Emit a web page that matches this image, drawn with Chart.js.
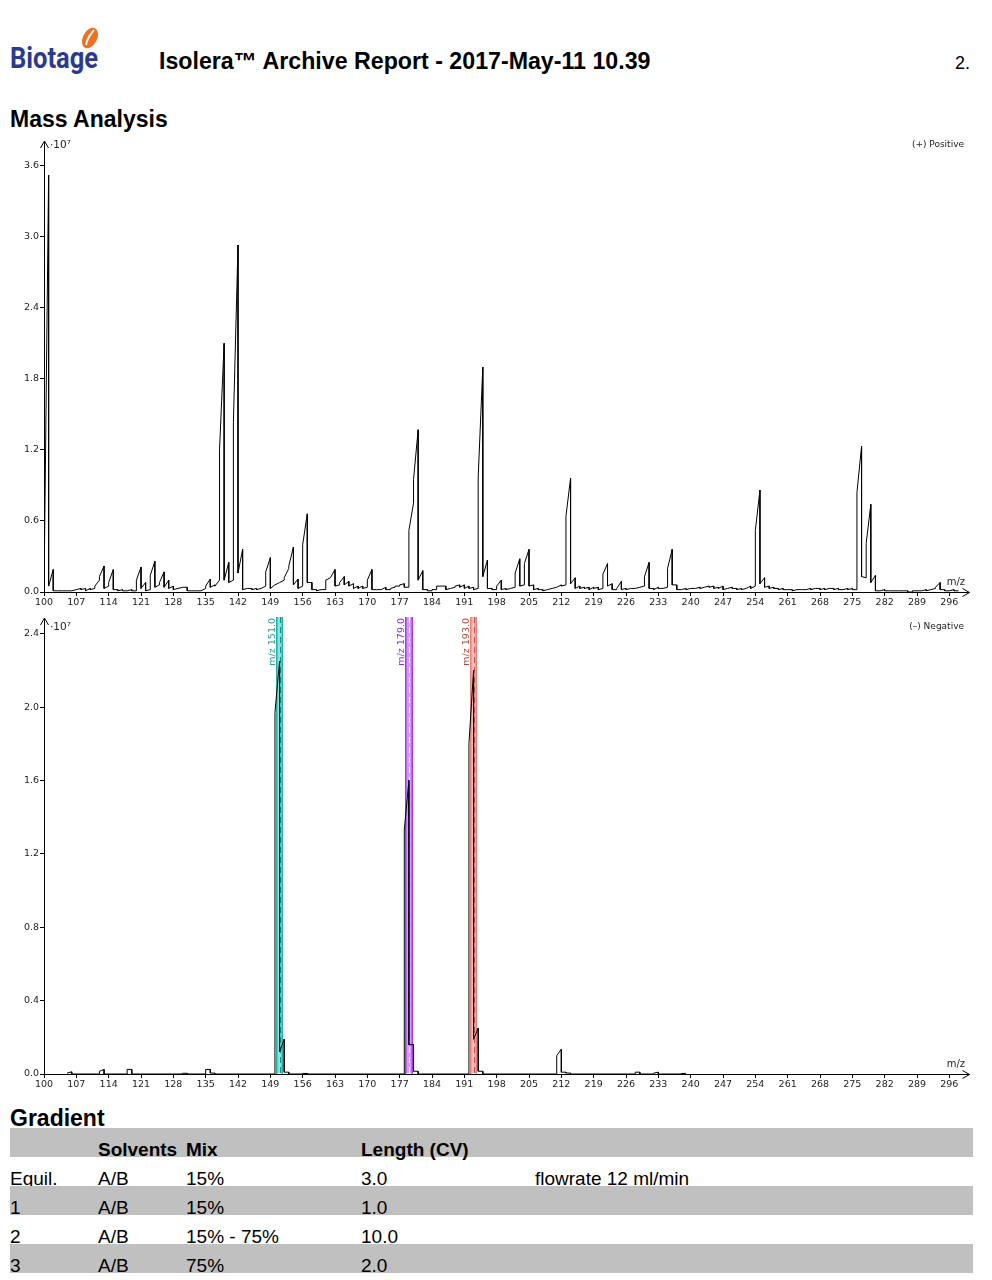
<!DOCTYPE html>
<html>
<head>
<meta charset="utf-8">
<script src="https://cdn.jsdelivr.net/npm/chart.js@4.4.1/dist/chart.umd.min.js"></script>
<style>
  body { margin: 0; background: #fff; width: 992px; height: 1280px; position: relative; overflow: hidden;
         font-family: "Liberation Sans", Arial, sans-serif; color: #000; }
  .abs { position: absolute; white-space: nowrap; }
  #logo { left: 10px; top: 40px; font-family: Roboto, sans-serif; font-weight: 700; font-size: 30px;
          color: #2b3a8e; transform: scaleX(0.85); transform-origin: left top; }
  #leaf { left: 78px; top: 24px; }
  #title { left: 159px; top: 48px; font-weight: 700; font-size: 23.2px; }
  #page { left: 955px; top: 53px; font-size: 18px; }
  .h2 { left: 10px; font-weight: 700; font-size: 23px; }
  canvas { position: absolute; left: 0; }
  .row { position: absolute; left: 10px; width: 963px; height: 29px; }
  .row.gray { background: #c0c0c0; }
  .cell { position: absolute; top: 11px; line-height: 21px; font-size: 19px; white-space: nowrap; }
  .hdr .cell { font-weight: 700; }
</style>
</head>
<body>
<div id="logo" class="abs">Biotage</div>
<svg id="leaf" class="abs" width="24" height="28" viewBox="0 0 24 28">
  <ellipse cx="12" cy="14" rx="7" ry="11" transform="rotate(28 12 14)" fill="#f07021"/>
  <path d="M8 21 C 9 14, 13 10, 16 6" stroke="#fff" stroke-width="2" fill="none"/>
</svg>
<div id="title" class="abs">Isolera™ Archive Report - 2017-May-11 10.39</div>
<div id="page" class="abs">2.</div>
<div class="abs h2" style="top:106px">Mass Analysis</div>

<canvas id="posChart" width="992" height="490" style="top:130px"></canvas>
<canvas id="negChart" width="992" height="496" style="top:606px"></canvas>

<div class="abs h2" style="top:1105px">Gradient</div>
<div id="table"></div>

<script>
// m/z tick labels shared by both spectra
const xTicks = [100, 107, 114, 121, 128, 135, 142, 149, 156, 163, 170, 177, 184, 191, 198,
                205, 212, 219, 226, 233, 240, 247, 254, 261, 268, 275, 282, 289, 296];
const posTicks = [0, 0.6, 1.2, 1.8, 2.4, 3.0, 3.6];
const negTicks = [0, 0.4, 0.8, 1.2, 1.6, 2.0, 2.4];

// (+) Positive, one bin per m/z from 100 to 297, intensity x10^7 at bin start and bin end
const posFirstMz = 100;
const posStart = [
  0.00, 0.05, 0.01, 0.01, 0.01, 0.01, 0.01, 0.02, 0.02, 0.01,
  0.02, 0.05, 0.13, 0.03, 0.08, 0.02, 0.01, 0.01, 0.01, 0.01,
  0.10, 0.03, 0.01, 0.14, 0.04, 0.08, 0.04, 0.03, 0.02, 0.03,
  0.04, 0.01, 0.01, 0.01, 0.01, 0.05, 0.04, 0.05, 1.20, 0.10,
  0.08, 1.43, 0.16, 0.02, 0.03, 0.02, 0.02, 0.03, 0.17, 0.03,
  0.06, 0.08, 0.12, 0.22, 0.06, 0.03, 0.40, 0.08, 0.02, 0.01,
  0.02, 0.10, 0.12, 0.05, 0.08, 0.06, 0.05, 0.03, 0.03, 0.03,
  0.10, 0.02, 0.02, 0.02, 0.02, 0.03, 0.05, 0.06, 0.04, 0.52,
  0.95, 0.10, 0.02, 0.01, 0.02, 0.05, 0.05, 0.02, 0.03, 0.05,
  0.04, 0.03, 0.03, 0.02, 0.97, 0.13, 0.03, 0.02, 0.05, 0.02,
  0.02, 0.03, 0.16, 0.05, 0.24, 0.05, 0.02, 0.02, 0.01, 0.02,
  0.03, 0.04, 0.05, 0.64, 0.07, 0.03, 0.03, 0.03, 0.02, 0.03,
  0.02, 0.15, 0.05, 0.02, 0.03, 0.02, 0.02, 0.03, 0.03, 0.04,
  0.13, 0.03, 0.02, 0.03, 0.03, 0.20, 0.06, 0.02, 0.02, 0.02,
  0.03, 0.03, 0.03, 0.04, 0.04, 0.03, 0.03, 0.02, 0.03, 0.03,
  0.02, 0.02, 0.03, 0.03, 0.52, 0.07, 0.04, 0.03, 0.03, 0.02,
  0.02, 0.02, 0.01, 0.02, 0.02, 0.02, 0.02, 0.03, 0.02, 0.02,
  0.03, 0.02, 0.02, 0.02, 0.02, 0.02, 0.84, 0.13, 0.41, 0.08,
  0.01, 0.01, 0.01, 0.01, 0.01, 0.01, 0.01, 0.00, 0.01, 0.01,
  0.01, 0.01, 0.02, 0.04, 0.02, 0.01, 0.01, 0.01
];
const posEnd = [
  3.52, 0.19, 0.01, 0.01, 0.01, 0.01, 0.02, 0.03, 0.03, 0.03,
  0.03, 0.10, 0.22, 0.05, 0.19, 0.02, 0.02, 0.01, 0.02, 0.01,
  0.21, 0.08, 0.02, 0.26, 0.06, 0.17, 0.10, 0.05, 0.03, 0.04,
  0.04, 0.01, 0.01, 0.01, 0.03, 0.11, 0.06, 0.10, 2.10, 0.25,
  0.10, 2.93, 0.36, 0.03, 0.03, 0.03, 0.03, 0.05, 0.29, 0.06,
  0.08, 0.10, 0.20, 0.38, 0.11, 0.05, 0.66, 0.08, 0.02, 0.02,
  0.02, 0.12, 0.19, 0.06, 0.13, 0.09, 0.07, 0.05, 0.05, 0.04,
  0.19, 0.02, 0.02, 0.04, 0.02, 0.04, 0.05, 0.07, 0.04, 0.75,
  1.37, 0.18, 0.02, 0.01, 0.02, 0.05, 0.05, 0.03, 0.04, 0.06,
  0.06, 0.05, 0.04, 0.03, 1.90, 0.27, 0.03, 0.02, 0.10, 0.03,
  0.03, 0.04, 0.28, 0.06, 0.36, 0.06, 0.03, 0.02, 0.02, 0.03,
  0.04, 0.06, 0.06, 0.96, 0.12, 0.05, 0.04, 0.04, 0.04, 0.04,
  0.03, 0.24, 0.07, 0.02, 0.09, 0.03, 0.03, 0.03, 0.04, 0.05,
  0.25, 0.03, 0.04, 0.03, 0.04, 0.36, 0.06, 0.02, 0.03, 0.03,
  0.03, 0.04, 0.04, 0.05, 0.05, 0.04, 0.05, 0.03, 0.04, 0.03,
  0.03, 0.03, 0.05, 0.05, 0.86, 0.12, 0.05, 0.04, 0.03, 0.03,
  0.02, 0.02, 0.02, 0.02, 0.02, 0.03, 0.03, 0.03, 0.03, 0.03,
  0.03, 0.03, 0.02, 0.03, 0.03, 0.02, 1.23, 0.12, 0.74, 0.14,
  0.01, 0.02, 0.01, 0.01, 0.01, 0.01, 0.01, 0.00, 0.01, 0.01,
  0.02, 0.02, 0.03, 0.08, 0.02, 0.01, 0.02, 0.01
];

// (-) Negative, only the bins that show any signal
const negMz    = [105,   112,   118,   130,   135,   136,   150,  151,  152,  156,
                  178,   179,   180,   192,   193,   194,   211,   212,  213,   228,  232,   238];
const negStart = [0.005, 0.015, 0.025, 0.004, 0.025, 0.005, 1.97, 0.12, 0.01, 0.003,
                  1.33,  0.16,  0.015, 1.80,  0.19,  0.015, 0.10,  0.01, 0.005, 0.01, 0.005, 0.003];
const negEnd   = [0.012, 0.025, 0.025, 0.004, 0.025, 0.005, 2.25, 0.19, 0.01, 0.003,
                  1.60,  0.16,  0.015, 2.20,  0.25,  0.015, 0.135, 0.01, 0.005, 0.01, 0.01,  0.003];

// extracted-ion markers on the negative trace
const markerMz = [151.0, 179.0, 193.0];
const markerEdge = ['#26aea4', '#a436f0', '#e3817c'];
const markerFill = ['#7fe8e1', '#d39cfb', '#f6bab6'];
const markerDash = ['#1f8f87', '#ffffff', '#d0524c'];
const markerText = ['#2a9c95', '#8a2be2', '#b5443f'];

// gradient table
const gradHeader = ['', 'Solvents', 'Mix', 'Length (CV)', ''];
const gradRows = [
  ['Equil.', 'A/B', '15%', '3.0', 'flowrate 12 ml/min'],
  ['1', 'A/B', '15%', '1.0', ''],
  ['2', 'A/B', '15% - 75%', '10.0', ''],
  ['3', 'A/B', '75%', '2.0', '']
];
const gradCols = [0, 88, 176, 351, 525];

function sawtooth(mzs, starts, ends) {
  const pts = [];
  let prevEnd = null;
  mzs.forEach((m, i) => {
    if (prevEnd !== null && prevEnd < m) {
      pts.push({ x: prevEnd, y: 0 });
      pts.push({ x: m, y: 0 });
    }
    pts.push({ x: m, y: starts[i] });
    pts.push({ x: m + 1, y: ends[i] });
    prevEnd = m + 1;
  });
  return pts;
}

const decor = {
  id: 'decor',
  beforeDatasetsDraw(chart, args, opts) {
    if (!opts.markers) return;
    const ctx = chart.ctx, xs = chart.scales.x;
    const { top, bottom } = chart.chartArea;
    ctx.save();
    markerMz.forEach((mz, i) => {
      const x0 = Math.round(xs.getPixelForValue(mz - 0.8));
      const x1 = Math.round(xs.getPixelForValue(mz + 0.8));
      const xc = Math.round(xs.getPixelForValue(mz)) + 0.5;
      ctx.fillStyle = markerFill[i];
      ctx.fillRect(x0, top - 2, x1 - x0, bottom - top + 1);
      ctx.strokeStyle = markerEdge[i];
      ctx.lineWidth = 1.5;
      ctx.beginPath();
      ctx.moveTo(x0 + 0.75, top - 2); ctx.lineTo(x0 + 0.75, bottom);
      ctx.moveTo(x1 - 0.75, top - 2); ctx.lineTo(x1 - 0.75, bottom);
      ctx.stroke();
      ctx.strokeStyle = markerDash[i];
      ctx.lineWidth = 1;
      ctx.setLineDash([6, 4]);
      ctx.beginPath();
      ctx.moveTo(xc, top - 2); ctx.lineTo(xc, bottom);
      ctx.stroke();
      ctx.setLineDash([]);
      // rotated label left of the band
      ctx.save();
      ctx.translate(x0 - 1, top - 1);
      ctx.rotate(-Math.PI / 2);
      ctx.fillStyle = markerText[i];
      ctx.font = '9.5px "DejaVu Sans"';
      ctx.textAlign = 'right';
      ctx.textBaseline = 'alphabetic';
      ctx.fillText('m/z ' + mz.toFixed(1), 0, 0);
      ctx.restore();
    });
    ctx.restore();
  },
  afterDraw(chart, args, opts) {
    const ctx = chart.ctx;
    const { left, right, top, bottom } = chart.chartArea;
    ctx.save();
    ctx.strokeStyle = '#000';
    ctx.lineWidth = 1;
    // y axis arrow
    ctx.beginPath();
    ctx.moveTo(left + 0.5, top + 1); ctx.lineTo(left + 0.5, top - 1);
    ctx.moveTo(left - 3.5, top + 6); ctx.lineTo(left + 0.5, top - 1); ctx.lineTo(left + 4.5, top + 6);
    ctx.stroke();
    // x axis arrow
    const yb = Math.round(bottom) + 0.5;
    ctx.beginPath();
    ctx.moveTo(right - 1, yb); ctx.lineTo(right + 4, yb);
    ctx.moveTo(right - 3, yb - 4); ctx.lineTo(right + 4, yb); ctx.lineTo(right - 3, yb + 4);
    ctx.stroke();
    ctx.fillStyle = '#222';
    ctx.textBaseline = 'middle';
    ctx.textAlign = 'left';
    ctx.font = '10.5px "DejaVu Sans"';
    ctx.fillText('\u00b710\u2077', left + 6, top + opts.labelDy);
    ctx.textAlign = 'right';
    ctx.font = '9px "DejaVu Sans"';
    ctx.fillText(opts.mode, 964, top + opts.labelDy);
    ctx.font = '10px "DejaVu Sans"';
    ctx.fillText('m/z', 965, bottom - 10);
    ctx.restore();
  }
};

function makeChart(id, points, yMax, yTicks, padTop, opts) {
  return new Chart(document.getElementById(id), {
    type: 'line',
    data: {
      datasets: [{
        data: points,
        borderColor: '#000',
        borderWidth: 1,
        pointRadius: 0,
        tension: 0,
        fill: false
      }]
    },
    options: {
      responsive: false,
      animation: false,
      layout: { padding: { top: padTop, right: 26.5, left: 0, bottom: 0 } },
      plugins: { legend: { display: false }, tooltip: { enabled: false }, decor: opts },
      scales: {
        x: {
          type: 'linear',
          min: 100,
          max: 299.5,
          afterBuildTicks: s => { s.ticks = xTicks.map(v => ({ value: v })); },
          afterFit: s => { s.height = 28; },
          grid: { drawOnChartArea: false, drawTicks: true, tickLength: 4, color: '#000' },
          border: { color: '#000' },
          ticks: {
            autoSkip: false, maxRotation: 0, padding: 1, color: '#222',
            font: { family: 'DejaVu Sans', size: 9.5 },
            callback: v => String(v)
          }
        },
        y: {
          min: 0,
          max: yMax,
          afterBuildTicks: s => { s.ticks = yTicks.map(v => ({ value: v })); },
          afterFit: s => { s.width = 44; },
          grid: { drawOnChartArea: false, drawTicks: true, tickLength: 4, color: '#000' },
          border: { color: '#000' },
          ticks: {
            padding: 1, color: '#222',
            font: { family: 'DejaVu Sans', size: 9.5 },
            callback: v => v.toFixed(1)
          }
        }
      }
    },
    plugins: [decor]
  });
}

const posMz = posStart.map((_, i) => posFirstMz + i);
makeChart('posChart', sawtooth(posMz, posStart, posEnd), 3.8, posTicks, 12,
  { mode: '(+) Positive', labelDy: 3, markers: false });
makeChart('negChart', sawtooth(negMz, negStart, negEnd), 2.48, negTicks, 13,
  { mode: '(\u2013) Negative', labelDy: 8, markers: true });

// table
const table = document.getElementById('table');
[gradHeader].concat(gradRows).forEach((row, r) => {
  const div = document.createElement('div');
  div.className = 'row' + (r % 2 === 0 ? ' gray' : '') + (r === 0 ? ' hdr' : '');
  div.style.top = (1128 + r * 29) + 'px';
  row.forEach((txt, c) => {
    if (!txt) return;
    const cell = document.createElement('div');
    cell.className = 'cell';
    cell.style.left = gradCols[c] + 'px';
    cell.textContent = txt;
    div.appendChild(cell);
  });
  table.appendChild(div);
});
</script>
</body>
</html>
